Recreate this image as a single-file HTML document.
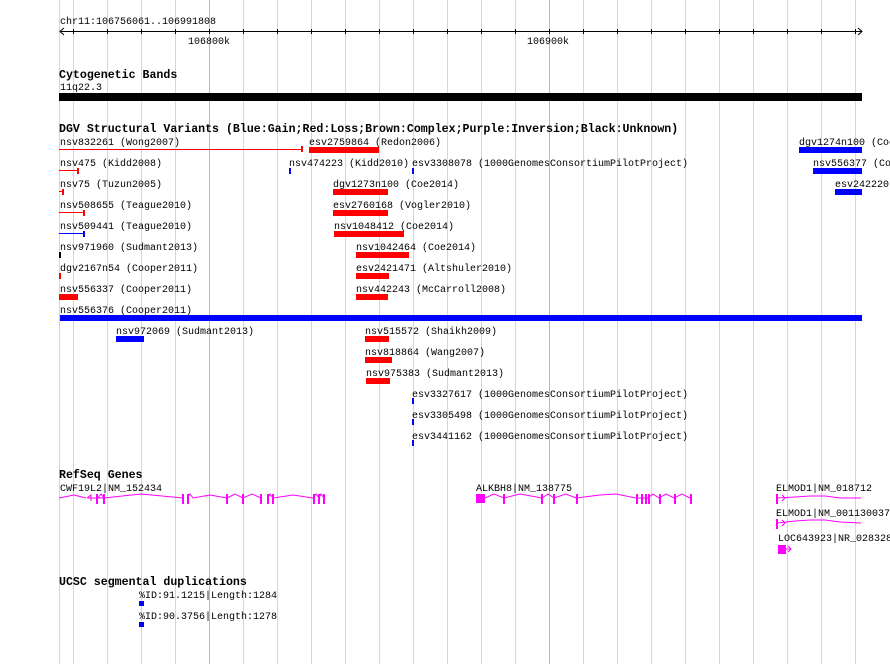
<!DOCTYPE html>
<html><head><meta charset="utf-8"><style>
html,body{margin:0;padding:0;background:#fff}
svg{display:block}
text{font-family:"Liberation Mono","DejaVu Sans Mono",monospace;font-size:10px;fill:#000}
.b{font-weight:bold;font-size:11.6px}
</style></head><body>
<svg width="890" height="664" xmlns="http://www.w3.org/2000/svg">
<g fill="#a8e8f0" shape-rendering="crispEdges">
<rect x="59" y="0" width="1" height="664"/><rect x="73" y="0" width="1" height="664"/>
<rect x="107" y="0" width="1" height="664"/><rect x="141" y="0" width="1" height="664"/>
<rect x="175" y="0" width="1" height="664"/>
<rect x="243" y="0" width="1" height="664"/><rect x="277" y="0" width="1" height="664"/>
<rect x="311" y="0" width="1" height="664"/><rect x="345" y="0" width="1" height="664"/>
<rect x="379" y="0" width="1" height="664"/><rect x="413" y="0" width="1" height="664"/>
<rect x="447" y="0" width="1" height="664"/><rect x="481" y="0" width="1" height="664"/>
<rect x="515" y="0" width="1" height="664"/>
<rect x="583" y="0" width="1" height="664"/><rect x="617" y="0" width="1" height="664"/>
<rect x="651" y="0" width="1" height="664"/><rect x="685" y="0" width="1" height="664"/>
<rect x="719" y="0" width="1" height="664"/><rect x="753" y="0" width="1" height="664"/>
<rect x="787" y="0" width="1" height="664"/><rect x="821" y="0" width="1" height="664"/>
<rect x="855" y="0" width="1" height="664"/>
</g>
<g fill="#88c8e8" shape-rendering="crispEdges"><rect x="209" y="0" width="1" height="664"/><rect x="549" y="0" width="1" height="664"/></g>

<text x="60" y="24">chr11:106756061..106991808</text>
<g stroke="#000" stroke-width="1" fill="none" shape-rendering="crispEdges">
<line x1="60" y1="31.5" x2="862" y2="31.5"/>
<path d="M73.5 29v5M107.5 29v5M141.5 29v5M175.5 29v5M209.5 29v5M243.5 29v5M277.5 29v5M311.5 29v5M345.5 29v5M379.5 29v5M413.5 29v5M447.5 29v5M481.5 29v5M515.5 29v5M549.5 29v5M583.5 29v5M617.5 29v5M651.5 29v5M685.5 29v5M719.5 29v5M753.5 29v5M787.5 29v5M821.5 29v5M855.5 29v5"/>
</g>
<g stroke="#000" fill="none"><polyline points="64,28 60,31.5 64,35"/><polyline points="858,28 862,31.5 858,35"/></g>
<text x="188" y="44">106800k</text><text x="527" y="44">106900k</text>

<text class="b" x="59" y="78">Cytogenetic Bands</text>
<text x="60" y="90">11q22.3</text>
<rect x="59" y="93" width="803" height="8" fill="#000"/>

<text class="b" x="59" y="132">DGV Structural Variants (Blue:Gain;Red:Loss;Brown:Complex;Purple:Inversion;Black:Unknown)</text>
<text x="60" y="145">nsv832261 (Wong2007)</text>
<text x="309" y="145">esv2759864 (Redon2006)</text>
<text x="799" y="145">dgv1274n100 (Coo</text>
<rect x="59" y="149" width="243" height="1" fill="red"/><rect x="301" y="146" width="2" height="6" fill="red"/>
<rect x="309" y="147" width="70" height="6" fill="red"/>
<rect x="799" y="147" width="63" height="6" fill="#00f"/>

<text x="60" y="166">nsv475 (Kidd2008)</text>
<text x="289" y="166">nsv474223 (Kidd2010)</text>
<text x="412" y="166">esv3308078 (1000GenomesConsortiumPilotProject)</text>
<text x="813" y="166">nsv556377 (Co</text>
<rect x="59" y="170" width="19" height="1" fill="red"/><rect x="77" y="168" width="2" height="6" fill="red"/>
<rect x="289" y="168" width="2" height="6" fill="#00f"/><rect x="412" y="168" width="2" height="6" fill="#00f"/>
<rect x="813" y="168" width="49" height="6" fill="#00f"/>

<text x="60" y="187">nsv75 (Tuzun2005)</text>
<text x="333" y="187">dgv1273n100 (Coe2014)</text>
<text x="835" y="187">esv242220:</text>
<rect x="59" y="191" width="4" height="1" fill="red"/><rect x="62" y="189" width="2" height="6" fill="red"/>
<rect x="333" y="189" width="55" height="6" fill="red"/>
<rect x="835" y="189" width="27" height="6" fill="#00f"/>

<text x="60" y="208">nsv508655 (Teague2010)</text>
<text x="333" y="208">esv2760168 (Vogler2010)</text>
<rect x="59" y="212" width="25" height="1" fill="red"/><rect x="83" y="210" width="2" height="6" fill="red"/>
<rect x="333" y="210" width="55" height="6" fill="red"/>

<text x="60" y="229">nsv509441 (Teague2010)</text>
<text x="334" y="229">nsv1048412 (Coe2014)</text>
<rect x="59" y="233" width="25" height="1" fill="#00f"/><rect x="83" y="231" width="2" height="6" fill="#00f"/>
<rect x="334" y="231" width="70" height="6" fill="red"/>

<text x="60" y="250">nsv971960 (Sudmant2013)</text>
<text x="356" y="250">nsv1042464 (Coe2014)</text>
<rect x="59" y="252" width="2" height="6" fill="#000"/>
<rect x="356" y="252" width="53" height="6" fill="red"/>

<text x="60" y="271">dgv2167n54 (Cooper2011)</text>
<text x="356" y="271">esv2421471 (Altshuler2010)</text>
<rect x="59" y="273" width="2" height="6" fill="red"/>
<rect x="356" y="273" width="33" height="6" fill="red"/>

<text x="60" y="292">nsv556337 (Cooper2011)</text>
<text x="356" y="292">nsv442243 (McCarroll2008)</text>
<rect x="59" y="294" width="19" height="6" fill="red"/>
<rect x="356" y="294" width="32" height="6" fill="red"/>

<text x="60" y="313">nsv556376 (Cooper2011)</text>
<rect x="60" y="315" width="802" height="6" fill="#00f"/>

<text x="116" y="334">nsv972069 (Sudmant2013)</text>
<text x="365" y="334">nsv515572 (Shaikh2009)</text>
<rect x="116" y="336" width="28" height="6" fill="#00f"/>
<rect x="365" y="336" width="24" height="6" fill="red"/>
<text x="365" y="355">nsv818864 (Wang2007)</text>
<rect x="365" y="357" width="27" height="6" fill="red"/>
<text x="366" y="376">nsv975383 (Sudmant2013)</text>
<rect x="366" y="378" width="24" height="6" fill="red"/>
<text x="412" y="397">esv3327617 (1000GenomesConsortiumPilotProject)</text>
<rect x="412" y="398" width="2" height="6" fill="#00f"/>
<text x="412" y="418">esv3305498 (1000GenomesConsortiumPilotProject)</text>
<rect x="412" y="419" width="2" height="6" fill="#00f"/>
<text x="412" y="439">esv3441162 (1000GenomesConsortiumPilotProject)</text>
<rect x="412" y="440" width="2" height="6" fill="#00f"/>

<text class="b" x="59" y="478">RefSeq Genes</text>
<text x="60" y="491">CWF19L2|NM_152434</text>
<g stroke="#f0f" stroke-width="1" fill="none">
<polyline points="59,498 74,495 86,498"/>
<polyline points="87,498 91,495 91,501"/>
<line x1="87" y1="498" x2="96" y2="498"/>
<polyline points="98,498 101,494 104,498 141,494 183,498"/>
<polyline points="187,498 190,494 193,498 210,495 227,498"/>
<polyline points="227,498 235,494 243,498 252,494 261,498"/>
<polyline points="268,498 270,494 273,498 293,495 313,498"/>
<polyline points="313,498 316,494 319,498 321,494 324,498"/>
<line x1="98" y1="498" x2="104" y2="498"/>
</g>
<g fill="#f0f">
<rect x="96" y="494" width="2" height="10"/><rect x="103" y="494" width="2" height="10"/>
<rect x="182" y="494" width="2" height="10"/><rect x="187" y="494" width="2" height="10"/>
<rect x="226" y="494" width="2" height="10"/><rect x="242" y="494" width="2" height="10"/>
<rect x="260" y="494" width="2" height="10"/><rect x="267" y="494" width="2" height="10"/><rect x="272" y="494" width="2" height="10"/>
<rect x="313" y="494" width="2" height="10"/><rect x="318" y="494" width="2" height="10"/><rect x="323" y="494" width="2" height="10"/>
</g>

<text x="476" y="491">ALKBH8|NM_138775</text>
<g stroke="#f0f" stroke-width="1" fill="none">
<polyline points="485,498 494,494 504,498 520,494 542,498 548,494 554,498 566,494 576,498 600,495 616,494 636,498"/>
<polyline points="648,498 653,494 659,498 666,494 674,498 682,494 690,498"/>
<line x1="636" y1="498" x2="648" y2="498"/>
</g>
<g fill="#f0f">
<rect x="476" y="494" width="9" height="9"/>
<rect x="503" y="494" width="2" height="10"/><rect x="541" y="494" width="2" height="10"/><rect x="553" y="494" width="2" height="10"/>
<rect x="576" y="494" width="2" height="10"/><rect x="636" y="494" width="2" height="10"/><rect x="641" y="494" width="2" height="10"/>
<rect x="645" y="494" width="2" height="10"/><rect x="648" y="494" width="2" height="10"/><rect x="659" y="494" width="2" height="10"/>
<rect x="674" y="494" width="2" height="10"/><rect x="690" y="494" width="2" height="10"/>
</g>

<text x="776" y="491">ELMOD1|NM_018712</text>
<text x="776" y="516">ELMOD1|NM_001130037</text>
<text x="778" y="541">LOC643923|NR_028328</text>
<g stroke="#f0f" stroke-width="1" fill="none">
<polyline points="777,498 795,497 810,496 825,496 840,498 861,498"/>
<polyline points="782,495 785,498 782,501"/>
<polyline points="777,523 795,521 810,520 825,520 840,522 861,523"/>
<polyline points="782,520 785,523 782,526"/>
<line x1="786" y1="549" x2="791" y2="549"/><polyline points="788,546 791,549 788,552"/>
</g>
<g fill="#f0f">
<rect x="776" y="494" width="2" height="10"/><rect x="776" y="519" width="2" height="10"/>
<rect x="778" y="545" width="8" height="9"/>
</g>

<text class="b" x="59" y="585">UCSC segmental duplications</text>
<text x="139" y="598">%ID:91.1215|Length:1284</text>
<rect x="139" y="601" width="5" height="5" fill="#00f"/>
<text x="139" y="619">%ID:90.3756|Length:1278</text>
<rect x="139" y="622" width="5" height="5" fill="#00f"/>
</svg>
</body></html>
